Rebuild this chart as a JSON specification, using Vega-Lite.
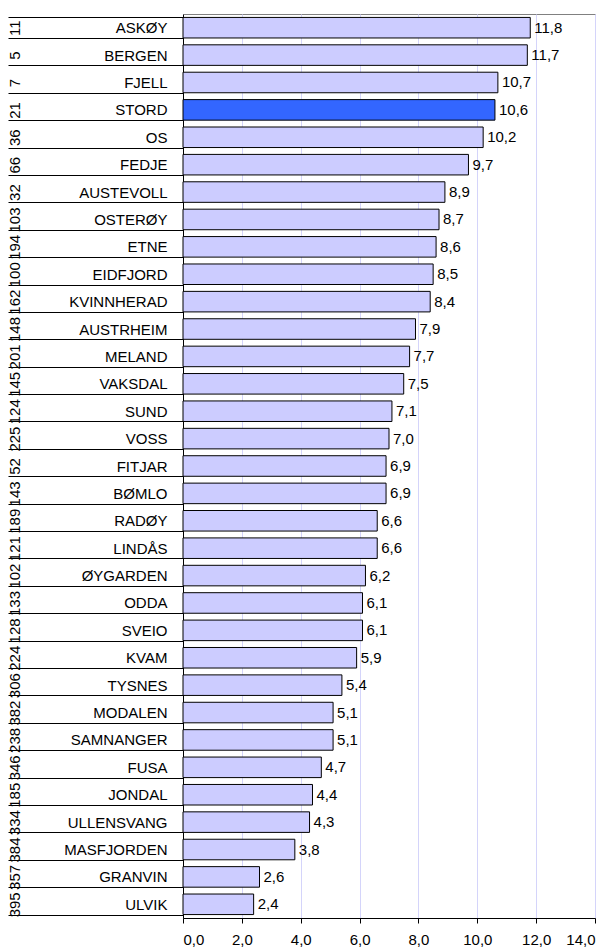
{
  "$schema": "https://vega.github.io/schema/vega-lite/v6.json",
  "width": 412,
  "height": 904,
  "autosize": {"type": "none"},
  "padding": {"left": 183, "top": 14, "right": 18, "bottom": 33},
  "config": {
    "locale": {"number": {"decimal": ",", "thousands": " ", "grouping": [3], "currency": ["", " kr"]}},
    "view": {"stroke": "#808080", "strokeWidth": 1},
    "font": "Liberation Sans"
  },
  "data": {"values": [
    {"order": 1, "name": "ASKØY", "rank": "11", "value": 11.8, "hl": "no"},
    {"order": 2, "name": "BERGEN", "rank": "5", "value": 11.7, "hl": "no"},
    {"order": 3, "name": "FJELL", "rank": "7", "value": 10.7, "hl": "no"},
    {"order": 4, "name": "STORD", "rank": "21", "value": 10.6, "hl": "yes"},
    {"order": 5, "name": "OS", "rank": "36", "value": 10.2, "hl": "no"},
    {"order": 6, "name": "FEDJE", "rank": "66", "value": 9.7, "hl": "no"},
    {"order": 7, "name": "AUSTEVOLL", "rank": "32", "value": 8.9, "hl": "no"},
    {"order": 8, "name": "OSTERØY", "rank": "103", "value": 8.7, "hl": "no"},
    {"order": 9, "name": "ETNE", "rank": "194", "value": 8.6, "hl": "no"},
    {"order": 10, "name": "EIDFJORD", "rank": "100", "value": 8.5, "hl": "no"},
    {"order": 11, "name": "KVINNHERAD", "rank": "162", "value": 8.4, "hl": "no"},
    {"order": 12, "name": "AUSTRHEIM", "rank": "148", "value": 7.9, "hl": "no"},
    {"order": 13, "name": "MELAND", "rank": "201", "value": 7.7, "hl": "no"},
    {"order": 14, "name": "VAKSDAL", "rank": "145", "value": 7.5, "hl": "no"},
    {"order": 15, "name": "SUND", "rank": "124", "value": 7.1, "hl": "no"},
    {"order": 16, "name": "VOSS", "rank": "225", "value": 7.0, "hl": "no"},
    {"order": 17, "name": "FITJAR", "rank": "52", "value": 6.9, "hl": "no"},
    {"order": 18, "name": "BØMLO", "rank": "143", "value": 6.9, "hl": "no"},
    {"order": 19, "name": "RADØY", "rank": "189", "value": 6.6, "hl": "no"},
    {"order": 20, "name": "LINDÅS", "rank": "121", "value": 6.6, "hl": "no"},
    {"order": 21, "name": "ØYGARDEN", "rank": "102", "value": 6.2, "hl": "no"},
    {"order": 22, "name": "ODDA", "rank": "133", "value": 6.1, "hl": "no"},
    {"order": 23, "name": "SVEIO", "rank": "128", "value": 6.1, "hl": "no"},
    {"order": 24, "name": "KVAM", "rank": "224", "value": 5.9, "hl": "no"},
    {"order": 25, "name": "TYSNES", "rank": "306", "value": 5.4, "hl": "no"},
    {"order": 26, "name": "MODALEN", "rank": "382", "value": 5.1, "hl": "no"},
    {"order": 27, "name": "SAMNANGER", "rank": "238", "value": 5.1, "hl": "no"},
    {"order": 28, "name": "FUSA", "rank": "346", "value": 4.7, "hl": "no"},
    {"order": 29, "name": "JONDAL", "rank": "185", "value": 4.4, "hl": "no"},
    {"order": 30, "name": "ULLENSVANG", "rank": "334", "value": 4.3, "hl": "no"},
    {"order": 31, "name": "MASFJORDEN", "rank": "384", "value": 3.8, "hl": "no"},
    {"order": 32, "name": "GRANVIN", "rank": "357", "value": 2.6, "hl": "no"},
    {"order": 33, "name": "ULVIK", "rank": "395", "value": 2.4, "hl": "no"}
  ]},
  "layer": [
    {
      "mark": {"type": "bar", "stroke": "#000000", "strokeWidth": 1},
      "encoding": {
        "y": {
          "field": "name", "type": "nominal", "sort": {"field": "order"},
          "scale": {"paddingInner": 0.25, "paddingOuter": 0.125},
          "axis": {
            "title": null, "domainColor": "#000000", "tickBand": "extent",
            "tickSize": 175, "tickColor": "#000000", "labelPadding": -159,
            "labelFontSize": 15, "labelColor": "#000000", "labelFont": "Liberation Sans"
          }
        },
        "x": {
          "field": "value", "type": "quantitative", "scale": {"domain": [0, 14], "nice": false},
          "axis": {
            "title": null, "values": [0, 2, 4, 6, 8, 10, 12, 14], "format": ".1f",
            "grid": true, "gridColor": "#d4d4fa", "domainColor": "#000000",
            "tickColor": "#000000", "tickSize": 5, "labelPadding": 9,
            "labelFontSize": 15, "labelColor": "#000000", "labelFont": "Liberation Sans"
          }
        },
        "color": {
          "field": "hl", "type": "nominal",
          "scale": {"domain": ["no", "yes"], "range": ["#ccccff", "#3366ff"]},
          "legend": null
        }
      }
    },
    {
      "mark": {"type": "text", "align": "left", "baseline": "middle", "dx": 4, "fontSize": 15, "font": "Liberation Sans", "color": "#000000"},
      "encoding": {
        "y": {
          "field": "rank", "type": "nominal", "sort": {"field": "order"},
          "axis": {
            "orient": "left", "title": null, "domain": false, "ticks": false,
            "labelAngle": 270, "labelAlign": "center", "labelBaseline": "middle",
            "labelPadding": 169, "labelFontSize": 15, "labelColor": "#000000", "labelFont": "Liberation Sans"
          }
        },
        "x": {"field": "value", "type": "quantitative"},
        "text": {"field": "value", "type": "quantitative", "format": ".1f"}
      }
    }
  ],
  "resolve": {"scale": {"y": "independent"}, "axis": {"y": "independent"}}
}
